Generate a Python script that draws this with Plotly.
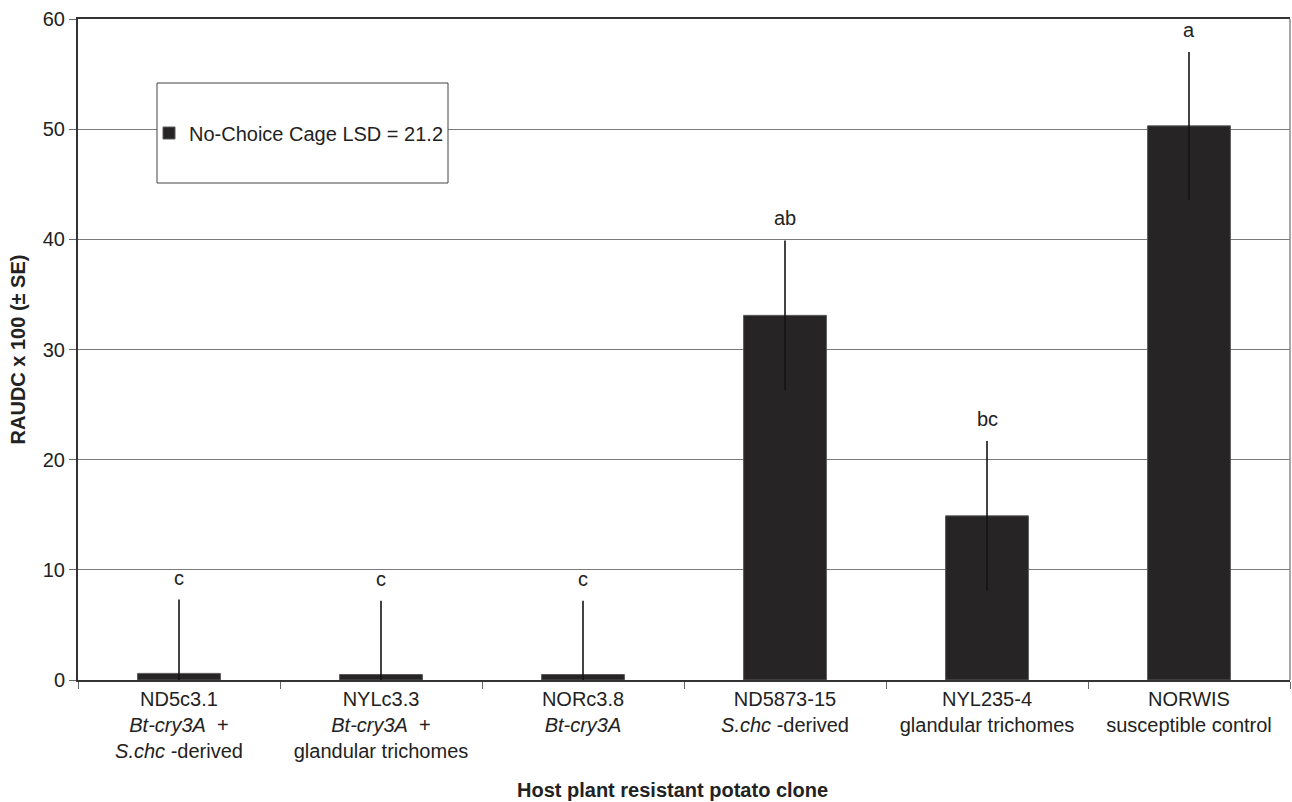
import plotly.graph_objects as go

# Host plant clones (multi-line tick labels, italic gene / species names)
clones = [
    "ND5c3.1<br><i>Bt-cry3A</i>  +<br><i>S.chc</i> -derived",
    "NYLc3.3<br><i>Bt-cry3A</i>  +<br>glandular trichomes",
    "NORc3.8<br><i>Bt-cry3A</i>",
    "ND5873-15<br><i>S.chc</i> -derived",
    "NYL235-4<br>glandular trichomes",
    "NORWIS<br>susceptible control",
]
raudc = [0.6, 0.5, 0.5, 33.1, 14.9, 50.3]
se = [6.7, 6.7, 6.7, 6.8, 6.8, 6.7]
letters = ["c", "c", "c", "ab", "bc", "a"]
series_name = "No-Choice Cage LSD = 21.2"

FONT = "Liberation Sans, Arial, sans-serif"
BAR = "#262425"

# lower whiskers stop at zero
se_minus = [min(s, v) for s, v in zip(se, raudc)]

fig = go.Figure()
fig.add_trace(go.Bar(
    x=clones, y=raudc, name=series_name, width=0.41,
    marker=dict(color=BAR, line=dict(color="#5a5a5a", width=1)),
    error_y=dict(type="data", array=se, arrayminus=se_minus, visible=True,
                 color="#141414", thickness=1.6, width=0),
    showlegend=True,
))

# significance letters above each whisker
for c, v, s, t in zip(clones, raudc, se, letters):
    fig.add_annotation(x=c, y=v + s, text=t, showarrow=False, yanchor="bottom",
                       yshift=9, font=dict(family=FONT, size=20, color="#222"))

L, R, T, B = 78, 2, 19, 122
W, H = 1292, 802
pw, ph = W - L - R, H - T - B

# legend frame
bx0, bx1, by0, by1 = 157, 448, 83, 183
fig.add_shape(type="rect", xref="paper", yref="paper", layer="above",
              x0=(bx0 - L) / pw, x1=(bx1 - L) / pw,
              y0=(H - B - by1) / ph, y1=(H - B - by0) / ph,
              fillcolor="white", line=dict(color="#444", width=1))
# right frame edge
fig.add_shape(type="line", xref="paper", yref="paper", x0=1, x1=1, y0=0, y1=1,
              line=dict(color="#8a8a8a", width=1.5))

fig.update_layout(
    width=W, height=H,
    margin=dict(l=L, r=R, t=T, b=B),
    paper_bgcolor="white", plot_bgcolor="white",
    font=dict(family=FONT, size=20, color="#222"),
    bargap=0.59,
    legend=dict(x=(149 - L) / pw, y=(H - B - 133) / ph, xanchor="left", yanchor="middle",
                bgcolor="rgba(0,0,0,0)", borderwidth=0,
                font=dict(family=FONT, size=20, color="#222")),
    xaxis=dict(
        type="category", tickson="boundaries", ticks="outside", ticklen=7,
        tickcolor="#666", tickwidth=1, showline=True, linecolor="#333", linewidth=2,
        mirror=True, showgrid=False, tickfont=dict(family=FONT, size=20, color="#222"),
    ),
    yaxis=dict(
        range=[0, 60], tickvals=[0, 10, 20, 30, 40, 50, 60], ticks="outside", ticklen=7,
        tickcolor="#666", showline=True, linecolor="#333", linewidth=2,
        showgrid=True, gridcolor="#7a7a7a", gridwidth=1, zeroline=False,
        tickfont=dict(family=FONT, size=20, color="#222"),
        title=dict(text="<b>RAUDC x 100 (± SE)</b>", standoff=12,
                   font=dict(family=FONT, size=20, color="#222")),
    ),
)

fig.add_annotation(xref="paper", yref="paper", x=(672 - L) / pw, y=-(790 - (H - B)) / ph,
                   text="<b>Host plant resistant potato clone</b>", showarrow=False,
                   xanchor="center", yanchor="middle",
                   font=dict(family=FONT, size=20, color="#222"))

fig.write_html("out.html")
